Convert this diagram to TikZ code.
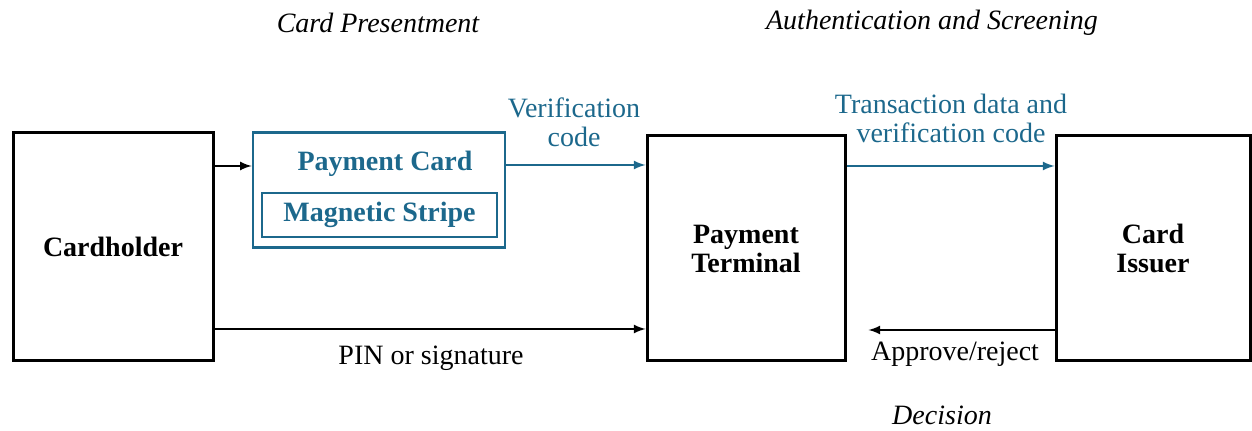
\documentclass[tikz,border=0pt]{standalone}
\usepackage{fontspec}
\setmainfont{Liberation Serif}
\usetikzlibrary{positioning,arrows,calc}
\definecolor{colb}{RGB}{28,104,140}

\begin{document}
\begin{tikzpicture}[x=0.5pt,y=-0.5pt,
    font=\fontsize{14}{14.5}\selectfont,
    blk/.style={draw=black,line width=1.5pt,inner sep=0pt,align=center,font=\fontsize{14}{14.5}\selectfont\bfseries},
    crd/.style={draw=colb,line width=1.3pt,inner sep=0pt,text=colb,font=\fontsize{14}{14.5}\selectfont\bfseries},
    arr/.style={-latex,line width=1pt},
    head/.style={font=\fontsize{14}{14.5}\selectfont\itshape}]
    \useasboundingbox (0,0) rectangle (1252,431);
    % boxes
    \node[blk,minimum width=100pt,minimum height=114pt] (holder) at (113,247) {Cardholder};
    \node[crd,minimum width=126pt,minimum height=57.5pt] (card) at (379,190) {};
    \node[crd,minimum width=117.5pt,minimum height=22pt] (stripe) at (379.5,215) {Magnetic Stripe};
    \node[text=colb,font=\fontsize{14}{14.5}\selectfont\bfseries] (cardlbl) at (385,164) {Payment Card};
    \node[blk,minimum width=99pt,minimum height=112.5pt] (term) at (746,248.5) {Payment\\Terminal};
    \node[blk,minimum width=97pt,minimum height=112.5pt] (issuer) at (1153,248.5) {Card\\Issuer};
    % headings
    \node[head] (h1) at (378,23) {Card Presentment};
    \node[head] (h2) at (932,23) {Authentication and Screening};
    \node[head] (h3) at (942,415) {Decision};
    % connectors
    \draw[arr] (holder.east |- 0,166) -- (card.west |- 0,166);
    \draw[arr,colb] (card.east |- 0,165) -- (term.west |- 0,165);
    \draw[arr,colb] (term.east |- 0,166) -- (issuer.west |- 0,166);
    \draw[arr] (holder.east |- 0,329) -- (term.west |- 0,329);
    \coordinate (tip) at ($(term.east |- 0,330)+(22,0)$);
    \draw[arr] (issuer.west |- 0,330) -- (tip);
    % labels
    \node[text=colb,align=center,font=\fontsize{14}{14.5}\selectfont] (vc) at (574,122) {Verification\\code};
    \node[text=colb,align=center,font=\fontsize{14}{14.5}\selectfont] (td) at (951,118) {Transaction data and\\verification code};
    \node (pin) at (431,358) {PIN or signature};
    \node (ok) at (955,354) {Approve/reject};
  \end{tikzpicture}
\end{document}
